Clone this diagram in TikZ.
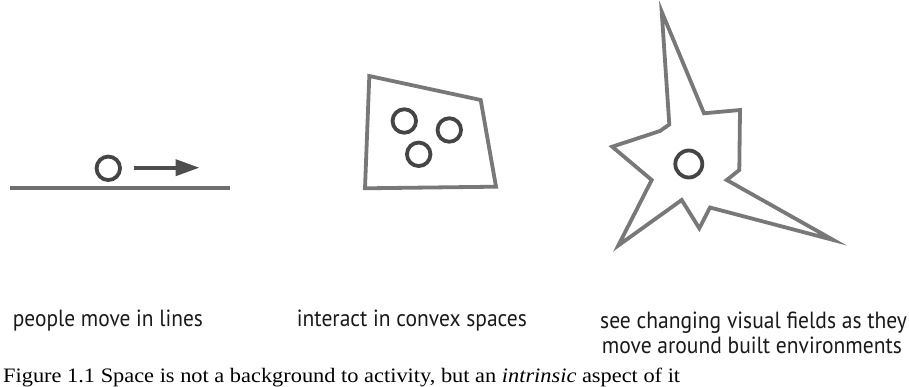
\documentclass[tikz,border=0pt]{standalone}
\usepackage{fontspec}
\setmainfont{Liberation Serif}
\newfontfamily\labfont{PT Sans}
\usetikzlibrary{arrows.meta}
\definecolor{edgegray}{HTML}{787878}
\definecolor{ringgray}{HTML}{454545}
\definecolor{linegray}{HTML}{6E6E6E}
\definecolor{arrowgray}{HTML}{4E4E4E}
\definecolor{textblack}{HTML}{1A1A1A}
\newcommand\fitw[2]{\resizebox{#1}{\height}{#2}}
\tikzset{
  ring/.style={circle, draw=ringgray, line width=3.8pt, minimum size=23.5pt, inner sep=0pt},
  bigring/.style={ring, minimum size=27pt},
  outline/.style={draw=edgegray, line width=3.8pt, line join=miter},
  label/.style={anchor=base west, inner sep=0pt, text=textblack, font=\labfont\fontsize{23.4}{27}\selectfont},
  caption/.style={anchor=base west, inner sep=0pt, text=black, font=\fontsize{20.5}{25}\selectfont}
}
\begin{document}
\begin{tikzpicture}[x=1pt,y=-1pt]
\useasboundingbox (0,0) rectangle (909,387);
\fill[white] (0,0) rectangle (909,387);

% ---- panel 1: lines ----
\coordinate (l0) at (10,187.7);
\coordinate (l1) at (230,187.7);
\draw[draw=linegray, line width=4pt] (l0) -- (l1);
\node[ring] (p1) at (108.3,168.3) {};
\coordinate (a0) at (134.3,167.7);
\coordinate (a1) at (199.5,167.7);
\draw[draw=arrowgray, fill=arrowgray, line width=4pt, -{Triangle[length=24pt,width=16pt]}] (a0) -- (a1);

% ---- panel 2: convex space ----
\coordinate (q1) at (369.3,76);
\coordinate (q2) at (480.7,100);
\coordinate (q3) at (496,186.7);
\coordinate (q4) at (365,188.3);
\draw[outline] (q1) -- (q2) -- (q3) -- (q4) -- cycle;
\node[ring] (c1) at (404.3,121) {};
\node[ring] (c2) at (449.3,130) {};
\node[ring] (c3) at (418.7,154.3) {};

% ---- panel 3: visual field ----
\coordinate (s1) at (661.7,11.7);
\coordinate (s2) at (704,113.3);
\coordinate (s3) at (740,110);
\coordinate (s4) at (739.3,170);
\coordinate (s5) at (726.7,180);
\coordinate (s6) at (833.3,240);
\coordinate (s7) at (710,207.5);
\coordinate (s8) at (699.3,228.3);
\coordinate (s9) at (681.7,200);
\coordinate (s10) at (618.3,245.5);
\coordinate (s11) at (651.7,180);
\coordinate (s12) at (612.2,146.7);
\coordinate (s13) at (660,131);
\coordinate (s14) at (669.3,124.5);
\draw[outline] (s1) -- (s2) -- (s3) -- (s4) -- (s5) -- (s6) -- (s7) -- (s8) -- (s9) -- (s10) -- (s11) -- (s12) -- (s13) -- (s14) -- cycle;
\node[bigring] (v1) at (688.8,164) {};

% ---- labels ----
\node[label] (t1) at (12.7,326.5) {\fitw{190pt}{people move in lines}};
\node[label] (t2) at (296.7,326.5) {\fitw{230pt}{interact in convex spaces}};
\node[label] (t3a) at (600,328) {\fitw{306.7pt}{see changing visual fields as they}};
\node[label] (t3b) at (601.7,353) {\fitw{300pt}{move around built environments}};

% ---- caption ----
\node[caption] (cap) at (3,382) {\fitw{677pt}{Figure 1.1 Space is not a background to activity, but an \textit{intrinsic} aspect of it}};
\end{tikzpicture}
\end{document}
